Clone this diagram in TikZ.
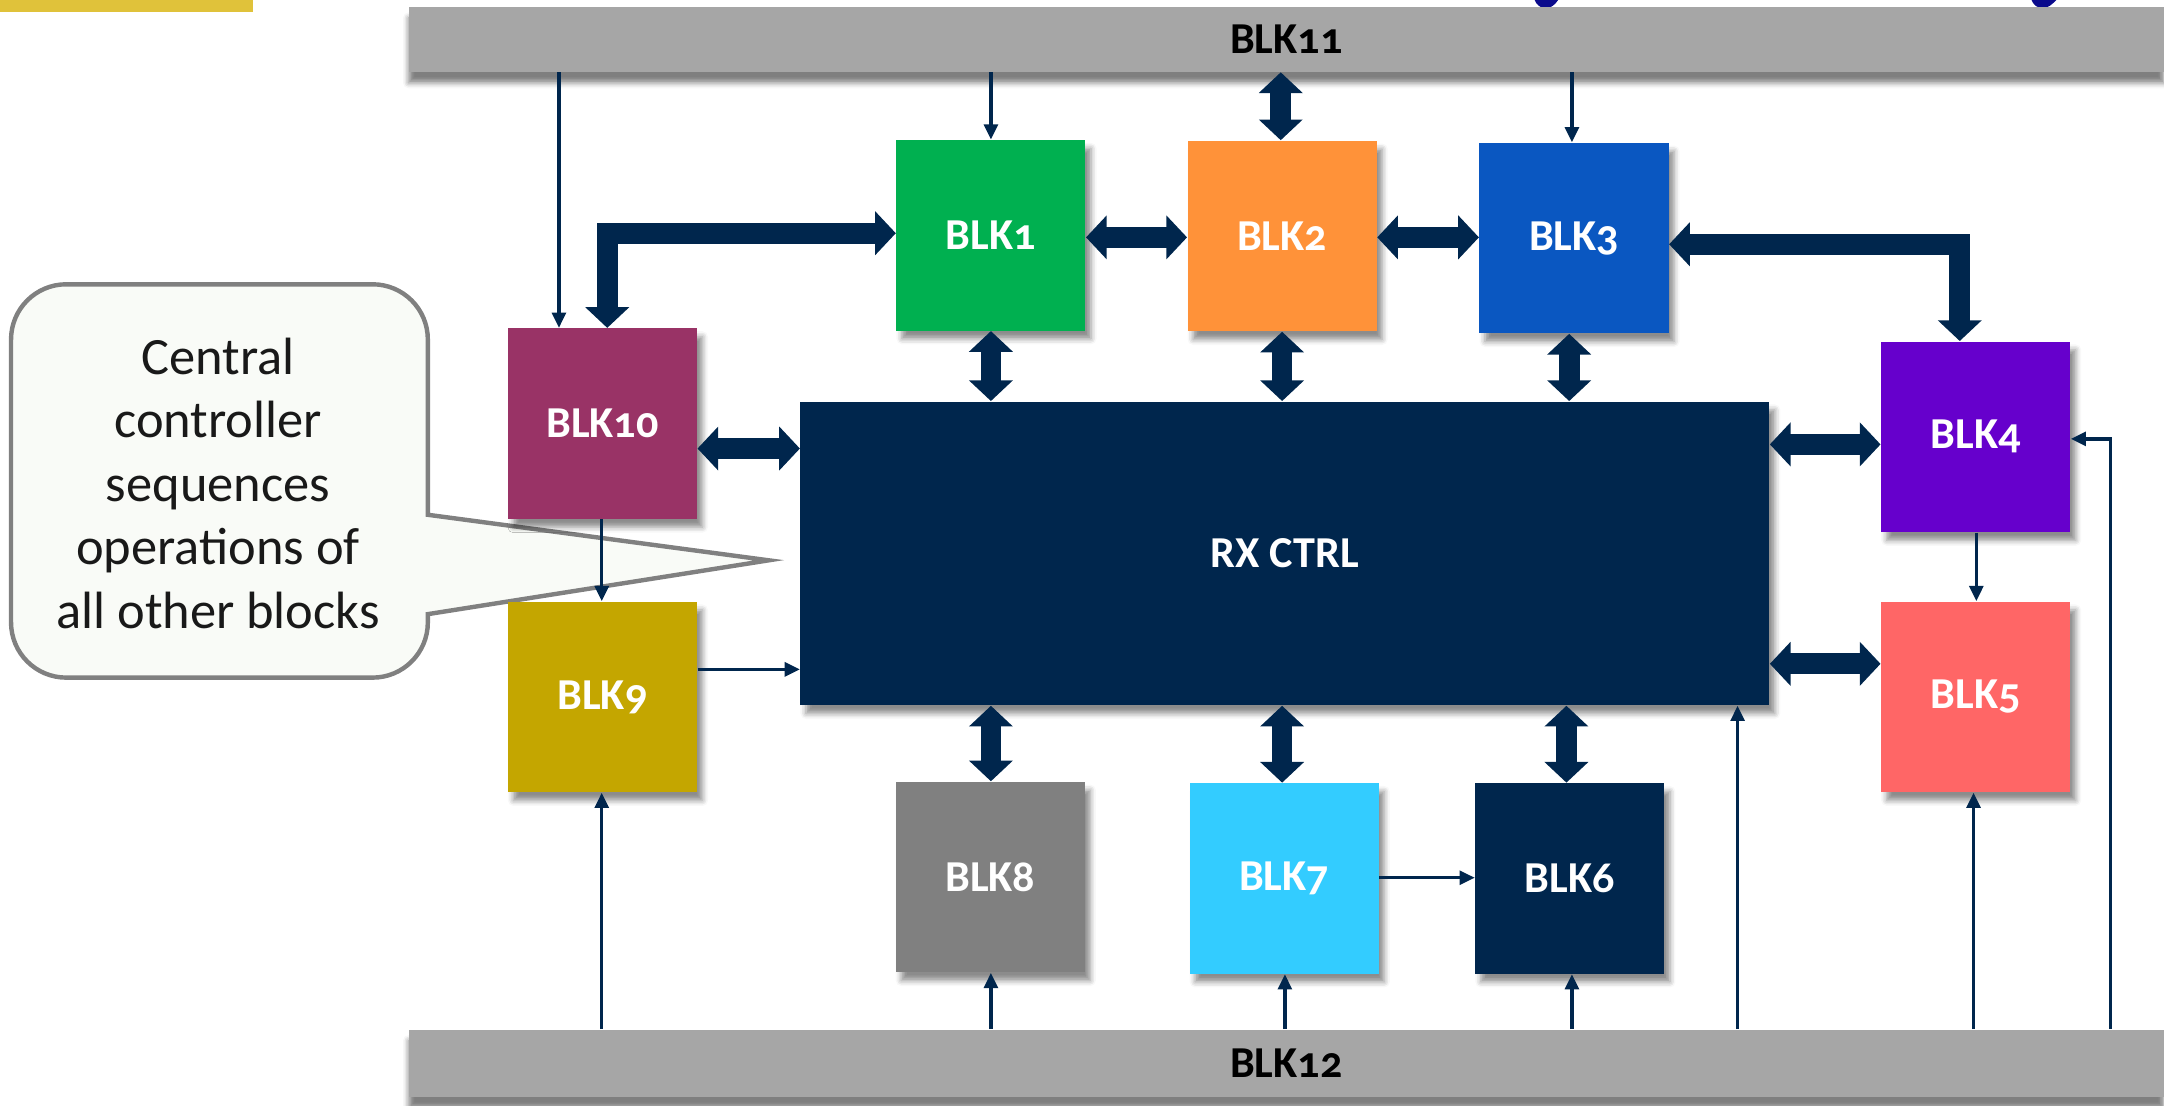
\documentclass[tikz,border=0pt]{standalone}
\usepackage{fontspec}
\setmainfont{Carlito}[Numbers=OldStyle]
\usetikzlibrary{arrows.meta,shadows.blur}
\definecolor{navy}{HTML}{00264D}
\definecolor{cgreen}{HTML}{00B050}
\definecolor{corange}{HTML}{FF9239}
\definecolor{cblue}{HTML}{0A57C1}
\definecolor{cpurple}{HTML}{6600CC}
\definecolor{ccoral}{HTML}{FF6666}
\definecolor{ccyan}{HTML}{33CCFF}
\definecolor{cgray}{HTML}{808080}
\definecolor{colive}{HTML}{C4A600}
\definecolor{cmaroon}{HTML}{993366}
\definecolor{barg}{HTML}{A6A6A6}
\definecolor{cyellow}{HTML}{E0C23A}
\definecolor{titleblue}{HTML}{0A0A8C}
\definecolor{notefill}{HTML}{F9FBF7}
\definecolor{noteline}{HTML}{808080}
\begin{document}
\begin{tikzpicture}[x=0.5pt,y=-0.5pt,
  lbl/.style={font=\bfseries\fontsize{16}{19}\selectfont},
  blk/.style={lbl, rectangle, inner sep=0pt, fill=#1, text=white,
    minimum width=68.5pt, minimum height=69pt,
    blur shadow={shadow xshift=2pt, shadow yshift=-3pt, shadow blur radius=2pt, shadow opacity=45}},
  bar/.style={lbl, rectangle, inner sep=0pt, fill=barg, text=black,
    minimum width=636pt,
    blur shadow={shadow xshift=0pt, shadow yshift=-4pt, shadow blur radius=2pt, shadow opacity=50}},
  sarrow/.style={draw=navy, line width=1.2pt, -{Triangle[length=5.5pt,width=5pt]}},
  darrow/.style={draw=navy, line width=7.5pt, line join=miter,
    {Triangle[length=7.5pt,width=15.5pt]}-{Triangle[length=7.5pt,width=15.5pt]}},
]
\useasboundingbox (0,0) rectangle (1568,801);

% fragments at the top edge
\fill[cyellow] (0,0) rectangle (183,8.5);
\fill[titleblue] (1112,0) .. controls (1113,3) and (1116,6) .. (1120,6)
  .. controls (1124,6) and (1127,3) .. (1129,0) -- cycle;
\fill[titleblue] (1472,0) .. controls (1473,3) and (1476,6) .. (1480,6)
  .. controls (1484,6) and (1487,3) .. (1490,0) -- cycle;

% callout
\draw[draw=noteline, fill=notefill, line width=1.6pt]
  (158,206) [rounded corners=20pt] -- (310,206) [sharp corners] -- (310,373)
  -- (557,406) -- (310,445) [rounded corners=20pt] -- (310,491) -- (8,491)
  -- (8,206) -- cycle;
\node[align=center, text=black!90, font=\fontsize{19}{23}\selectfont]
  (note) at (158,350) {Central\\controller\\sequences\\operations of\\all other blocks};

% bars
\node[bar, minimum height=23.5pt] (bar11) at (932,28.5) {BLK11};
\node[bar, minimum height=24.5pt] (bar12) at (932,770.5) {BLK12};

% central controller
\node[lbl, rectangle, inner sep=0pt, fill=navy, text=white,
  minimum width=351pt, minimum height=110pt,
  blur shadow={shadow xshift=2pt, shadow yshift=-3pt, shadow blur radius=2pt, shadow opacity=45}]
  (rx) at (931,401) {RX CTRL};

% blocks
\node[blk=cgreen]  (b1)  at (718,170.5)  {BLK1};
\node[blk=corange] (b2)  at (929,171)    {BLK2};
\node[blk=cblue]   (b3)  at (1140.5,172.5) {BLK3};
\node[blk=cpurple] (b4)  at (1431.5,316.5) {BLK4};
\node[blk=ccoral]  (b5)  at (1431.5,505) {BLK5};
\node[blk=navy]    (b6)  at (1137.5,636.5) {BLK6};
\node[blk=ccyan]   (b7)  at (930.5,636.5) {BLK7};
\node[blk=cgray]   (b8)  at (717.5,635.5) {BLK8};
\node[blk=colive]  (b9)  at (436.5,505)  {BLK9};
\node[blk=cmaroon] (b10) at (436.5,307)  {BLK10};

% thick double arrows
\draw[darrow] (b1.east |- 0,172) -- (b2.west |- 0,172);
\draw[darrow] (b2.east |- 0,172) -- (b3.west |- 0,172);
\draw[darrow] (bar11.south -| 928,0) -- (b2.north -| 928,0);
\draw[darrow] (b1.south -| 718,0) -- (rx.north -| 718,0);
\draw[darrow] (b2.south -| 929,0) -- (rx.north -| 929,0);
\draw[darrow] (b3.south -| 1137,0) -- (rx.north -| 1137,0);
\draw[darrow] (rx.south -| 718,0) -- (b8.north -| 718,0);
\draw[darrow] (rx.south -| 929,0) -- (b7.north -| 929,0);
\draw[darrow] (rx.south -| 1135,0) -- (b6.north -| 1135,0);
\draw[darrow] (b10.east |- 0,325) -- (rx.west |- 0,325);
\draw[darrow] (rx.east |- 0,322) -- (b4.west |- 0,322);
\draw[darrow] (rx.east |- 0,481) -- (b5.west |- 0,481);
\draw[darrow] (b10.north -| 440,0) |- (b1.west |- 0,169);
\draw[darrow] (b3.east |- 0,177) -| (b4.north -| 1420,0);

% thin arrows
\draw[sarrow] (bar11.south -| 405,0) -- (b10.north -| 405,0);
\draw[sarrow] (bar11.south -| 718,0) -- (b1.north -| 718,0);
\draw[sarrow] (bar11.south -| 1139,0) -- (b3.north -| 1139,0);
\draw[sarrow] (b10.south -| 436,0) -- (b9.north -| 436,0);
\draw[sarrow] (b9.east |- 0,485) -- (rx.west |- 0,485);
\draw[sarrow] (bar12.north -| 436,0) -- (b9.south -| 436,0);
\draw[sarrow] (bar12.north -| 718,0) -- (b8.south -| 718,0);
\draw[sarrow] (bar12.north -| 931,0) -- (b7.south -| 931,0);
\draw[sarrow] (bar12.north -| 1139,0) -- (b6.south -| 1139,0);
\draw[sarrow] (bar12.north -| 1259,0) -- (rx.south -| 1259,0);
\draw[sarrow] (bar12.north -| 1430,0) -- (b5.south -| 1430,0);
\draw[sarrow] (bar12.north -| 1529,0) |- (b4.east |- 0,318);
\draw[sarrow] (b4.south -| 1432,0) -- (b5.north -| 1432,0);
\draw[sarrow] (b7.east |- 0,636) -- (b6.west |- 0,636);
\end{tikzpicture}
\end{document}
